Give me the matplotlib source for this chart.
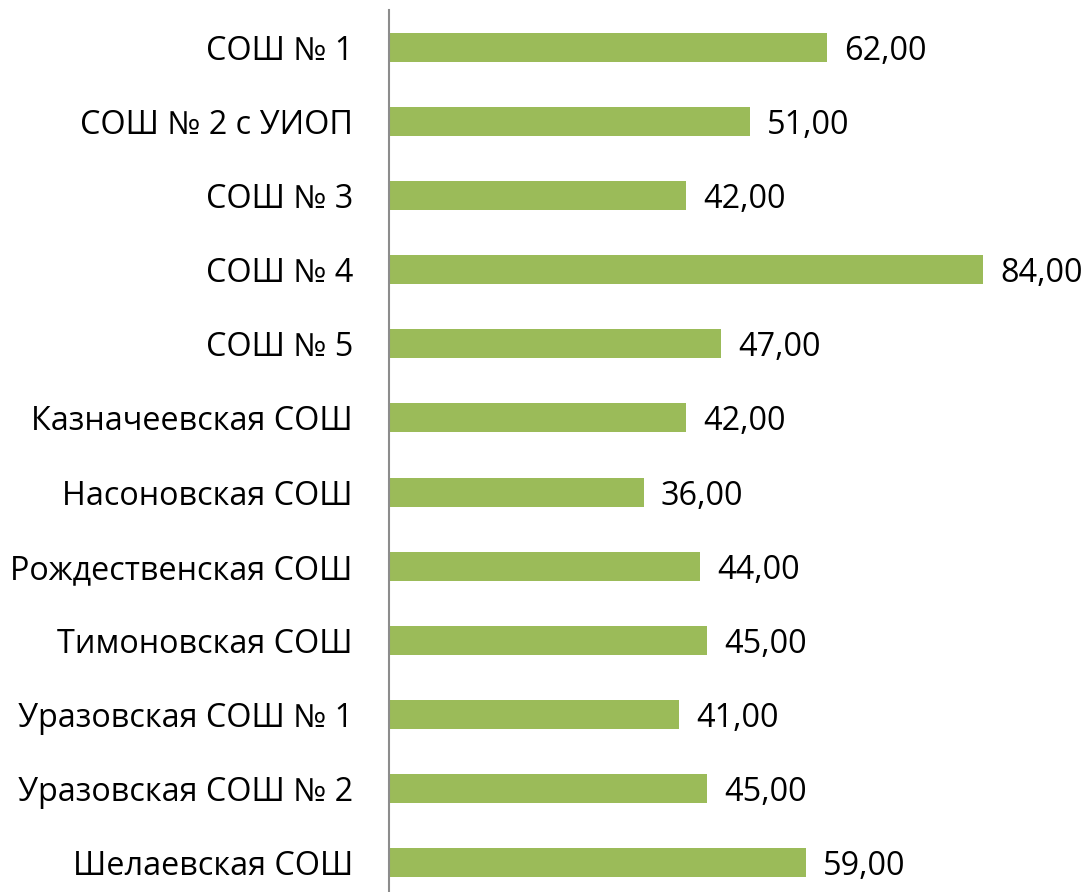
import matplotlib.pyplot as plt

schools = ['СОШ № 1', 'СОШ № 2 с УИОП', 'СОШ № 3', 'СОШ № 4', 'СОШ № 5',
           'Казначеевская СОШ', 'Насоновская СОШ', 'Рождественская СОШ',
           'Тимоновская СОШ', 'Уразовская СОШ № 1', 'Уразовская СОШ № 2',
           'Шелаевская СОШ']
scores = [62, 51, 42, 84, 47, 42, 36, 44, 45, 41, 45, 59]

plt.rcParams['font.family'] = ['Open Sans', 'DejaVu Sans']

fig = plt.figure(figsize=(10.87, 8.92), dpi=100)
ax = fig.add_axes([389 / 1087, -8 / 892, 1 - 389 / 1087, 890 / 892])

pos = list(range(len(schools)))
ax.barh(pos, scores, height=0.39, color='#9BBB59')
ax.set_ylim(len(schools) - 0.5, -0.5)
ax.set_xlim(0, 98.7)

for p, v in zip(pos, scores):
    ax.text(v + 2.4, p, f'{v:.2f}'.replace('.', ','), va='center_baseline',
            ha='left', fontsize=23.3)

ax.set_yticks(pos)
ax.set_yticklabels(schools, fontsize=23.3, va='center_baseline')
ax.tick_params(axis='y', length=0, pad=26)
ax.set_xticks([])
for s in ['top', 'right', 'bottom']:
    ax.spines[s].set_visible(False)
ax.spines['left'].set_color('#8c8c8c')
ax.spines['left'].set_linewidth(1.5)

fig.savefig('out.png', dpi=100)
